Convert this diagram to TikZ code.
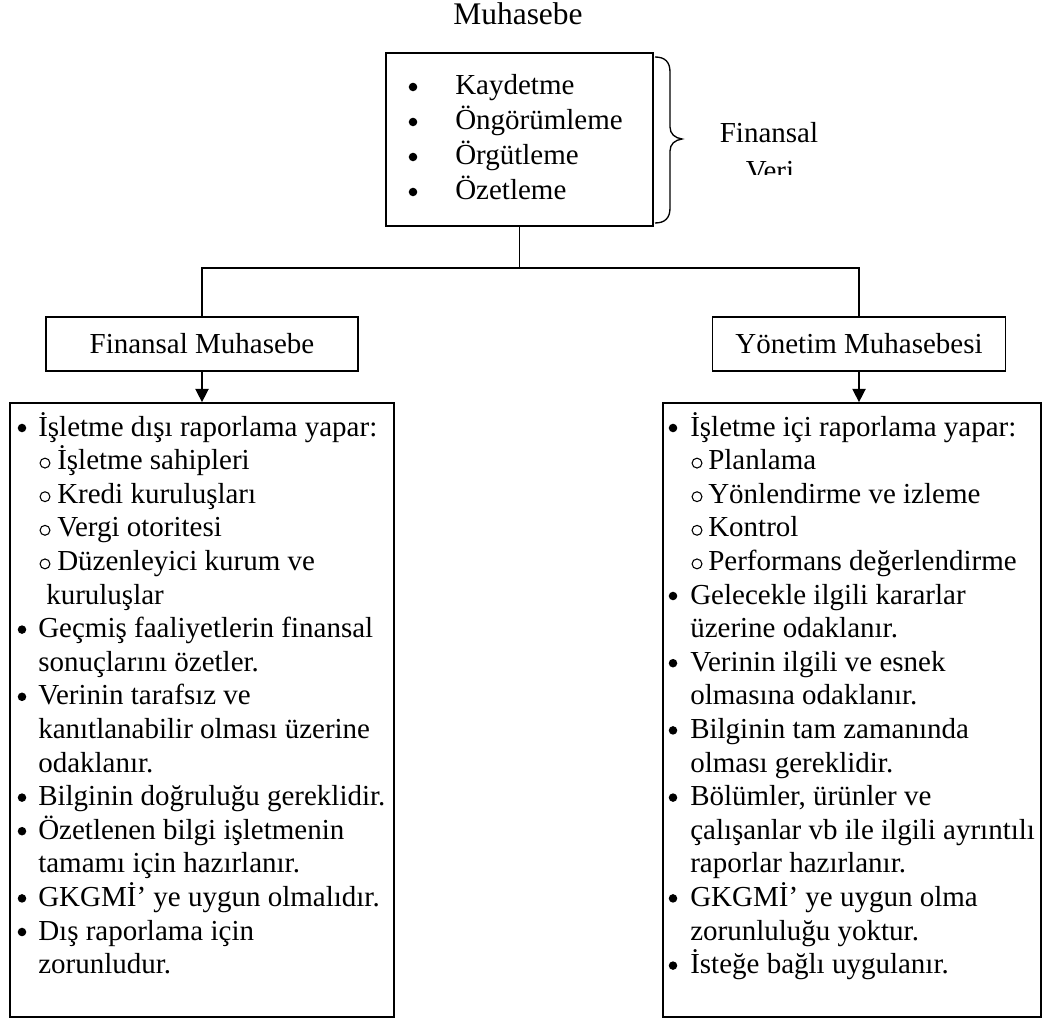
\documentclass[tikz,border=0pt]{standalone}
\usepackage{fontspec}
\setmainfont{Liberation Serif}
\usetikzlibrary{arrows.meta}

\newcommand\bodysize{\fontsize{21.75}{26}\selectfont}
\newcommand\titlesize{\fontsize{23.6}{28}\selectfont}

\begin{document}
\begin{tikzpicture}[x=0.75pt,y=-0.75pt,
  frame/.style={draw, line width=1.3pt, inner sep=0pt},
  txt/.style={inner sep=0pt, anchor=base west, font=\bodysize},
  bul/.style={circle, fill, inner sep=0pt, minimum size=6.4pt},
  ring/.style={circle, draw, line width=0.8pt, inner sep=0pt, minimum size=7.4pt},
  conn/.style={line width=1.1pt},
  arr/.style={conn, -{Triangle[length=10pt,width=10pt]}}]

\useasboundingbox (0,0) rectangle (1049,1023);

% title
\node[inner sep=0pt, anchor=base, font=\titlesize] (title) at (518,25) {Muhasebe};

% top box with the four steps
\node[frame, minimum width=200.25pt, minimum height=129.75pt] (top) at (519.5,139.5) {};
\foreach \t [count=\n from 0] in {Kaydetme,Öngörümleme,Örgütleme,Özetleme}{
  \node[bul] (tb\n) at (413,95+35*\n-8) {};
  \node[txt] (tt\n) at (455,95+35*\n) {\t};
}

% brace and its label
\draw[line width=1pt] (655,57) .. controls (665,57) and (670,62) .. (670,72)
  -- (670,127) .. controls (670,134) and (675,138) .. (682,139)
  .. controls (675,140) and (670,144) .. (670,151)
  -- (670,208) .. controls (670,218) and (665,223) .. (655,223);
\node[txt, anchor=base] (fv1) at (769,143) {Finansal};
\begin{scope}
  \clip (700,100) rectangle (850,175);
  \node[txt, anchor=base] (fv2) at (770,181) {Veri};
\end{scope}

% the two branches
\node[frame, minimum width=234pt, minimum height=40.5pt, font=\bodysize] (fm) at (202,344) {Finansal Muhasebe};
\node[frame, minimum width=219.75pt, minimum height=40.5pt, font=\bodysize] (ym) at (859,344) {Yönetim Muhasebesi};

\coordinate (j) at (top.south |- 0,268);
\draw[conn] (top.south) -- (j);
\draw[conn] (j) -| (fm.north);
\draw[conn] (j) -| (ym.north);

% detail boxes
\node[frame, minimum width=288pt, minimum height=460.5pt] (lbox) at (202,710) {};
\node[frame, minimum width=283.5pt, minimum height=460.5pt] (rbox) at (852,710) {};

\draw[arr] (fm.south) -- (fm.south |- lbox.north);
\draw[arr] (ym.south) -- (ym.south |- rbox.north);

% left list: b = bullet, s = sub item, c = continued bullet, d = continued sub item
\foreach \kind/\t [count=\n from 0] in {
  b/{İşletme dışı raporlama yapar:},
  s/{İşletme sahipleri},
  s/{Kredi kuruluşları},
  s/{Vergi otoritesi},
  s/{Düzenleyici kurum ve},
  d/{kuruluşlar},
  b/{Geçmiş faaliyetlerin finansal},
  c/{sonuçlarını özetler.},
  b/{Verinin tarafsız ve},
  c/{kanıtlanabilir olması üzerine},
  c/{odaklanır.},
  b/{Bilginin doğruluğu gereklidir.},
  b/{Özetlenen bilgi işletmenin},
  c/{tamamı için hazırlanır.},
  b/{GKGMİ’ ye uygun olmalıdır.},
  b/{Dış raporlama için},
  c/{zorunludur.}}{
  \pgfmathsetmacro\yy{436+33.6*\n}
  \if b\kind
    \node[bul] (lm\n) at (22,\yy-8) {};
    \node[txt] (lt\n) at (38,\yy) {\t};
  \fi
  \if s\kind
    \node[ring] (lm\n) at (45,\yy-6.5) {};
    \node[txt] (lt\n) at (57,\yy) {\t};
  \fi
  \if c\kind
    \node[txt] (lt\n) at (38,\yy) {\t};
  \fi
  \if d\kind
    \node[txt] (lt\n) at (46,\yy) {\t};
  \fi
}

% right list
\foreach \kind/\t [count=\n from 0] in {
  b/{İşletme içi raporlama yapar:},
  s/{Planlama},
  s/{Yönlendirme ve izleme},
  s/{Kontrol},
  s/{Performans değerlendirme},
  b/{Gelecekle ilgili kararlar},
  c/{üzerine odaklanır.},
  b/{Verinin ilgili ve esnek},
  c/{olmasına odaklanır.},
  b/{Bilginin tam zamanında},
  c/{olması gereklidir.},
  b/{Bölümler, ürünler ve},
  c/{çalışanlar vb ile ilgili ayrıntılı},
  c/{raporlar hazırlanır.},
  b/{GKGMİ’ ye uygun olma},
  c/{zorunluluğu yoktur.},
  b/{İsteğe bağlı uygulanır.}}{
  \pgfmathsetmacro\yy{436+33.6*\n}
  \if b\kind
    \node[bul] (rm\n) at (673,\yy-8) {};
    \node[txt] (rt\n) at (690,\yy) {\t};
  \fi
  \if s\kind
    \node[ring] (rm\n) at (697,\yy-6.5) {};
    \node[txt] (rt\n) at (708,\yy) {\t};
  \fi
  \if c\kind
    \node[txt] (rt\n) at (690,\yy) {\t};
  \fi
}
\end{tikzpicture}
\end{document}
